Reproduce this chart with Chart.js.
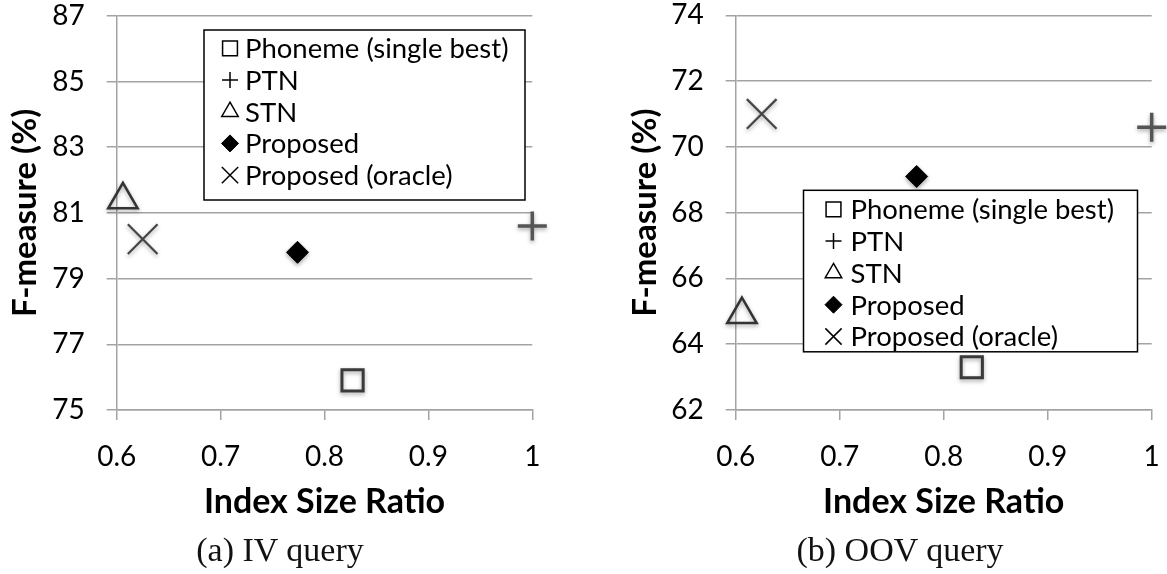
<!DOCTYPE html>
<html>
<head>
<meta charset="utf-8">
<script src="https://cdn.jsdelivr.net/npm/chart.js@4/dist/chart.umd.min.js"></script>
<style>
  html, body { margin: 0; padding: 0; background: #fff; }
  body { width: 1167px; height: 574px; position: relative; overflow: hidden; }
  .panel { position: absolute; top: 0; height: 540px; }
  #panelA { left: 0; width: 580px; }
  #panelB { left: 580px; width: 587px; }
  .caption {
    position: absolute; top: 531px; transform: translateX(-50%);
    font-family: "Liberation Serif", serif; font-size: 34px; color: #111; white-space: nowrap;
  }
</style>
</head>
<body>
<div class="panel" id="panelA"><canvas id="chartA"></canvas></div>
<div class="panel" id="panelB"><canvas id="chartB"></canvas></div>
<div class="caption" id="capA" style="left:280px"></div>
<div class="caption" id="capB" style="left:900px"></div>
<script>
// ---- data ----
const seriesNames = ['Phoneme (single best)', 'PTN', 'STN', 'Proposed', 'Proposed (oracle)'];
const indexSizeRatio = [0.827, 1.0, 0.606, 0.774, 0.625];
const ivFMeasure = [75.9, 80.6, 81.4, 79.8, 80.2];
const oovFMeasure = [63.3, 70.6, 64.9, 69.1, 71.0];
const xTickValues = [0.6, 0.7, 0.8, 0.9, 1];
const ivTickValues = [75, 77, 79, 81, 83, 85, 87];
const oovTickValues = [62, 64, 66, 68, 70, 72, 74];
const captions = ['(a) IV query', '(b) OOV query'];

document.getElementById('capA').textContent = captions[0];
document.getElementById('capB').textContent = captions[1];

// ---- marker styles (plot and legend) ----
const markerStyles = [
  { pointStyle: 'rect',     radius: 15,   borderWidth: 3,   borderColor: '#3a3a3a', backgroundColor: 'rgba(0,0,0,0)' },
  { pointStyle: 'cross',    radius: 14.5, borderWidth: 3.5, borderColor: '#555555', backgroundColor: 'rgba(0,0,0,0)' },
  { pointStyle: 'triangle', radius: 17,   borderWidth: 2.5, borderColor: '#333333', backgroundColor: 'rgba(0,0,0,0)' },
  { pointStyle: 'rectRot',  radius: 11,   borderWidth: 1,   borderColor: '#000000', backgroundColor: '#000000' },
  { pointStyle: 'crossRot', radius: 21,   borderWidth: 2.2, borderColor: '#454545', backgroundColor: 'rgba(0,0,0,0)' }
];
const legendSymbols = [
  { radius: 10.5, borderWidth: 1.5, fill: 'rgba(0,0,0,0)' },
  { radius: 8,    borderWidth: 1.5, fill: 'rgba(0,0,0,0)' },
  { radius: 9.5,  borderWidth: 1.5, fill: 'rgba(0,0,0,0)' },
  { radius: 8.5,  borderWidth: 1,   fill: '#000' },
  { radius: 11.5, borderWidth: 1.5, fill: 'rgba(0,0,0,0)' }
];

const GRID = '#a3a3a3';
const SANS = 'Lato';

// soft shadow under the markers
const markerShadow = {
  id: 'markerShadow',
  beforeDatasetsDraw(chart) {
    const ctx = chart.ctx;
    ctx.save();
    ctx.shadowColor = 'rgba(0,0,0,0.35)';
    ctx.shadowBlur = 4;
    ctx.shadowOffsetX = 0;
    ctx.shadowOffsetY = 2;
  },
  afterDatasetsDraw(chart) { chart.ctx.restore(); }
};

// framed legend placed inside the plot area
const boxedLegend = {
  id: 'boxedLegend',
  afterDraw(chart, args, o) {
    const { ctx, chartArea } = chart;
    const x0 = chartArea.left + o.left, y0 = chartArea.top + o.top;
    ctx.save();
    ctx.fillStyle = '#fff';
    ctx.fillRect(x0, y0, o.width, o.height);
    ctx.lineWidth = 1.5;
    ctx.strokeStyle = '#000';
    ctx.strokeRect(x0, y0, o.width, o.height);
    chart.data.datasets.forEach((ds, i) => {
      const cy = y0 + o.firstRow + i * o.rowGap;
      const sym = legendSymbols[i];
      ctx.lineWidth = sym.borderWidth;
      ctx.strokeStyle = '#000';
      ctx.fillStyle = sym.fill;
      Chart.helpers.drawPoint(ctx, { pointStyle: ds.pointStyle, radius: sym.radius, borderWidth: sym.borderWidth, rotation: 0 }, x0 + o.symbolX, cy);
      ctx.fillStyle = '#000';
      ctx.font = o.fontSize + 'px ' + SANS;
      ctx.textBaseline = 'middle';
      ctx.textAlign = 'left';
      ctx.fillText(ds.label, x0 + o.textX, cy + 1);
    });
    ctx.restore();
  }
};

function buildDatasets(yValues) {
  return seriesNames.map((name, i) => {
    const s = markerStyles[i];
    return {
      label: name,
      data: [{ x: indexSizeRatio[i], y: yValues[i] }],
      pointStyle: s.pointStyle,
      pointRadius: s.radius,
      pointHoverRadius: s.radius,
      pointBorderWidth: s.borderWidth,
      pointBorderColor: s.borderColor,
      pointBackgroundColor: s.backgroundColor,
      showLine: false,
      clip: false
    };
  });
}

function makeChart(canvasId, yValues, yTicks, layout, legendOpts) {
  return new Chart(document.getElementById(canvasId), {
    type: 'scatter',
    data: { datasets: buildDatasets(yValues) },
    options: {
      responsive: true,
      maintainAspectRatio: false,
      animation: false,
      events: [],
      layout: { autoPadding: false, padding: { top: layout.top, right: layout.right, bottom: 0, left: 0 } },
      scales: {
        x: {
          type: 'linear',
          min: xTickValues[0],
          max: xTickValues[xTickValues.length - 1],
          afterBuildTicks: s => { s.ticks = xTickValues.map(v => ({ value: v })); },
          afterFit: s => { s.height = layout.xAxisHeight; s.paddingLeft = 0; s.paddingRight = 0; },
          grid: { drawOnChartArea: false, drawTicks: true, tickLength: 10, color: GRID, lineWidth: 1.5 },
          border: { display: true, color: GRID, width: 1.5 },
          ticks: { font: { family: SANS, size: 28, lineHeight: 1.1 }, color: '#000', padding: 22, maxRotation: 0, callback: v => String(v) },
          title: { display: true, text: 'Index Size Ratio', color: '#000',
                   font: { family: SANS, size: 34, weight: 'bold' }, padding: { top: 0, bottom: layout.xTitlePad } }
        },
        y: {
          min: yTicks[0],
          max: yTicks[yTicks.length - 1],
          afterBuildTicks: s => { s.ticks = yTicks.map(v => ({ value: v })); },
          afterFit: s => { s.width = layout.yAxisWidth; s.paddingTop = 0; s.paddingBottom = 0; },
          grid: { drawTicks: true, tickLength: 10, color: GRID, lineWidth: 1.5 },
          border: { display: true, color: GRID, width: 1.5 },
          ticks: { font: { family: SANS, size: 28, lineHeight: 1.1 }, color: '#000', padding: 22, callback: v => String(v) },
          title: { display: true, text: 'F-measure (%)', color: '#000',
                   font: { family: SANS, size: 33, weight: 'bold' }, padding: { top: layout.yTitlePad, bottom: 0 } }
        }
      },
      plugins: {
        legend: { display: false },
        tooltip: { enabled: false },
        boxedLegend: legendOpts
      }
    },
    plugins: [markerShadow, boxedLegend]
  });
}

makeChart('chartA', ivFMeasure, ivTickValues,
  { top: 15.8, right: 47.7, yAxisWidth: 116.7, xAxisHeight: 130, xTitlePad: 18, yTitlePad: 6 },
  { left: 87.3, top: 14.2, width: 321, height: 170, firstRow: 18.3, rowGap: 31.7, symbolX: 26, textX: 41, fontSize: 27.5 });

makeChart('chartB', oovFMeasure, oovTickValues,
  { top: 15.3, right: 15.3, yAxisWidth: 155.7, xAxisHeight: 130, xTitlePad: 18, yTitlePad: 46 },
  { left: 67.8, top: 175, width: 334, height: 161.5, firstRow: 19, rowGap: 31.8, symbolX: 30, textX: 47, fontSize: 27.5 });
</script>
</body>
</html>
